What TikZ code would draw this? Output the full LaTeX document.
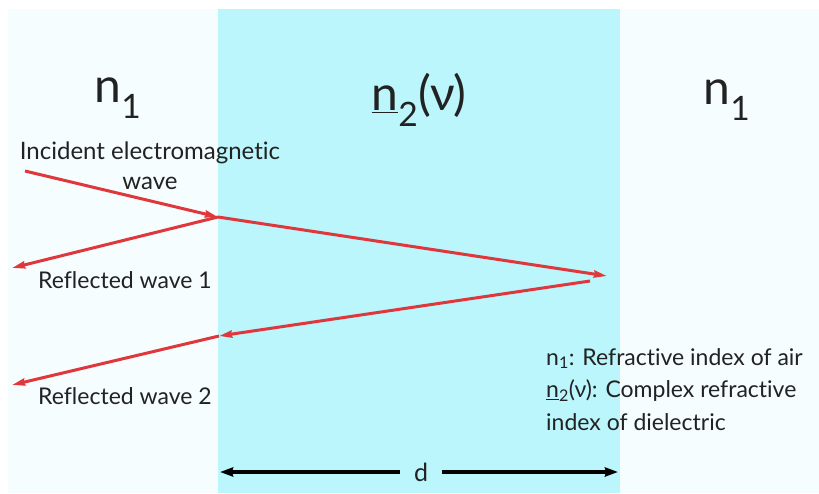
\documentclass[tikz,border=0pt]{standalone}
\usepackage{fontspec}
\setmainfont{Lato}[Ligatures=NoCommon]
\usetikzlibrary{arrows.meta}
\definecolor{pale}{HTML}{F5FDFE}
\definecolor{slab}{HTML}{BAF6FC}
\definecolor{ray}{HTML}{E0373C}
\definecolor{txt}{HTML}{222222}
\begin{document}
\begin{tikzpicture}[x=1pt,y=-1pt,
  raystyle/.style={draw=ray,line width=3pt,-{Stealth[length=13pt,width=7pt,inset=1pt]}},
  dimstyle/.style={draw=black,line width=4pt,-{Stealth[length=13pt,width=9pt,inset=1pt]}},
  big/.style={font=\fontsize{48}{52}\selectfont,text=txt,inner sep=0pt},
  lbl/.style={font=\fontsize{23}{30}\selectfont,text=txt,inner sep=0pt}]
\useasboundingbox (0,0) rectangle (819,493);
\fill[white] (0,0) rectangle (819,493);
\fill[pale] (8,9) rectangle (819,493);
\fill[slab] (218,9) rectangle (620,493);
% labels
\node[big] (na) at (118,98) {n\textsubscript{1}};
\node[big] (nb) at (419,100) {\underline{n}\textsubscript{2}(ν)};
\node[big] (nc) at (727,100) {n\textsubscript{1}};
\node[lbl,align=center,font=\fontsize{24}{30}\selectfont] (inc) at (150,166) {Incident electromagnetic\\wave};
\node[lbl,anchor=west] (r1) at (38,280) {Reflected wave 1};
\node[lbl,anchor=west] (r2) at (38,396) {Reflected wave 2};
\node[lbl,anchor=north west,align=left,font=\fontsize{23}{32.5}\selectfont] (leg) at (546,348)
  {n\textsubscript{1}: Refractive index of air\\\underline{n}\textsubscript{2}(ν): Complex refractive\\index of dielectric};
\node[lbl,font=\fontsize{25}{26}\selectfont] (d) at (421,472) {d};
% points
\coordinate (s) at (25,171);
\coordinate (p1) at (218,217);
\coordinate (e1) at (12,268);
\coordinate (p2) at (607,276);
\coordinate (p2b) at (590,281);
\coordinate (p3) at (219,336);
\coordinate (e2) at (12,385);
\coordinate (dl) at (220,472);
\coordinate (dr) at (618,472);
% rays
\draw[raystyle] (s) -- (p1);
\draw[raystyle] (p1) -- (e1);
\draw[raystyle] (p1) -- (p2);
\draw[raystyle] (p2b) -- (p3);
\draw[raystyle] (p3) -- (e2);
% dimension
\draw[dimstyle] (d.west) ++(-14,0) coordinate (dwl) (dwl) -- (dl);
\draw[dimstyle] (d.east) ++(14,0) coordinate (dwr) (dwr) -- (dr);
\end{tikzpicture}
\end{document}
